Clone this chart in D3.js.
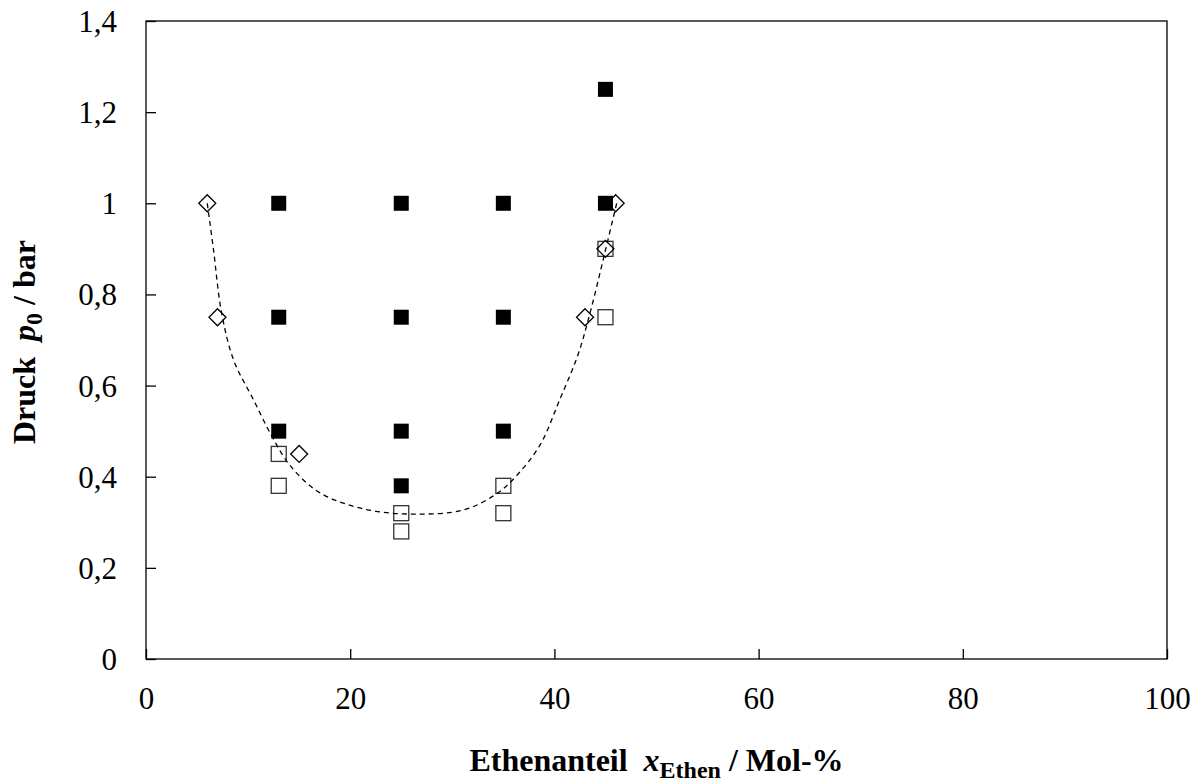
<!DOCTYPE html>
<html><head><meta charset="utf-8">
<script src="https://cdn.jsdelivr.net/npm/d3@7"></script>
<style>body{margin:0;background:#fff}svg{display:block}</style>
</head><body>
<svg id="c" width="1203" height="782"></svg>
<script>
const xTicks = [0,20,40,60,80,100];
const yTicks = [0,0.2,0.4,0.6,0.8,1,1.2,1.4];
const filledSquares = [[13,1],[25,1],[35,1],[45,1],[45,1.25],[13,0.75],[25,0.75],[35,0.75],[13,0.5],[25,0.5],[35,0.5],[25,0.38]];
const openSquares = [[13,0.45],[13,0.38],[25,0.32],[25,0.28],[35,0.38],[35,0.32],[45,0.9],[45,0.75]];
const diamonds = [[6,1],[7,0.75],[15,0.45],[43,0.75],[45,0.9],[46,1]];
const curve = [[6,1],[6.6,0.9],[7.4,0.76],[8.6,0.655],[10.5,0.57],[12.3,0.49],[14.1,0.425],[17,0.365],[21.6,0.328],[26.2,0.318],[31.1,0.327],[34.3,0.362],[36.2,0.4],[38.6,0.47],[40.5,0.568],[42.3,0.667],[43.5,0.76],[45,0.897],[46.1,1.0]];

const svg = d3.select("#c");
const L=146, R=1167, T=21, B=659;
const x = d3.scaleLinear().domain([0,100]).range([L,R]);
const y = d3.scaleLinear().domain([0,1.4]).range([B,T]);
const font = "Liberation Serif, Times New Roman, serif";

svg.append("rect").attr("x",L).attr("y",T).attr("width",R-L).attr("height",B-T)
  .attr("fill","none").attr("stroke","#000").attr("stroke-width",1.3);

const gx = svg.append("g").attr("transform",`translate(0,${B})`)
  .call(d3.axisBottom(x).tickValues(xTicks).tickSizeInner(-10).tickSizeOuter(0).tickFormat(d=>d));
const gy = svg.append("g").attr("transform",`translate(${L},0)`)
  .call(d3.axisLeft(y).tickValues(yTicks).tickSizeInner(-10).tickSizeOuter(0)
  .tickFormat(d=>String(+d.toFixed(1)).replace(".",",")));
[gx,gy].forEach(g=>{
  g.attr("font-family",null).attr("font-size",null);
  g.select(".domain").remove();
  g.selectAll(".tick line").attr("stroke","#000").attr("stroke-width",1.3);
  g.selectAll(".tick text").style("font-family",font).style("font-size","31px").attr("fill","#000");
});
gx.selectAll(".tick text").attr("y",50).attr("dy",null);
gy.selectAll(".tick text").attr("x",-29).attr("dy","0.34em");

const line = d3.line().x(d=>x(d[0])).y(d=>y(d[1])).curve(d3.curveCatmullRom.alpha(0.5));

const s=15;
svg.append("g").selectAll("rect").data(openSquares).join("rect")
  .attr("x",d=>x(d[0])-s/2).attr("y",d=>y(d[1])-s/2).attr("width",s).attr("height",s)
  .attr("fill","#fff").attr("stroke","#333").attr("stroke-width",1.3);
svg.append("g").selectAll("rect").data(filledSquares).join("rect")
  .attr("x",d=>x(d[0])-s/2).attr("y",d=>y(d[1])-s/2).attr("width",s).attr("height",s)
  .attr("fill","#000");
const dr=8.5;
svg.append("g").selectAll("path").data(diamonds).join("path")
  .attr("d",d=>{const cx=x(d[0]),cy=y(d[1]);return `M${cx},${cy-dr}L${cx+dr},${cy}L${cx},${cy+dr}L${cx-dr},${cy}Z`;})
  .attr("fill","none").attr("stroke","#000").attr("stroke-width",1.3);

svg.append("path").datum(curve).attr("d",line).attr("fill","none")
  .attr("stroke","#000").attr("stroke-width",1.3).attr("stroke-dasharray","5,4");

// axis titles
const xt = svg.append("text").attr("x",(L+R)/2).attr("y",771).attr("text-anchor","middle")
  .style("font-family",font).style("font-size","32px").attr("font-weight","bold");
xt.append("tspan").text("Ethenanteil\u00a0\u00a0");
xt.append("tspan").attr("font-style","italic").text("x");
xt.append("tspan").style("font-size","24px").attr("dy",7).text("Ethen");
xt.append("tspan").attr("dy",-7).text(" / Mol-%");

const yt = svg.append("text").attr("transform",`translate(35,${(T+B)/2+2}) rotate(-90)`).attr("text-anchor","middle")
  .style("font-family",font).style("font-size","32px").attr("font-weight","bold");
yt.append("tspan").text("Druck\u00a0\u00a0");
yt.append("tspan").attr("font-style","italic").text("p");
yt.append("tspan").style("font-size","24px").attr("dy",7).text("0");
yt.append("tspan").attr("dy",-7).text(" / bar");
</script>
</body></html>
